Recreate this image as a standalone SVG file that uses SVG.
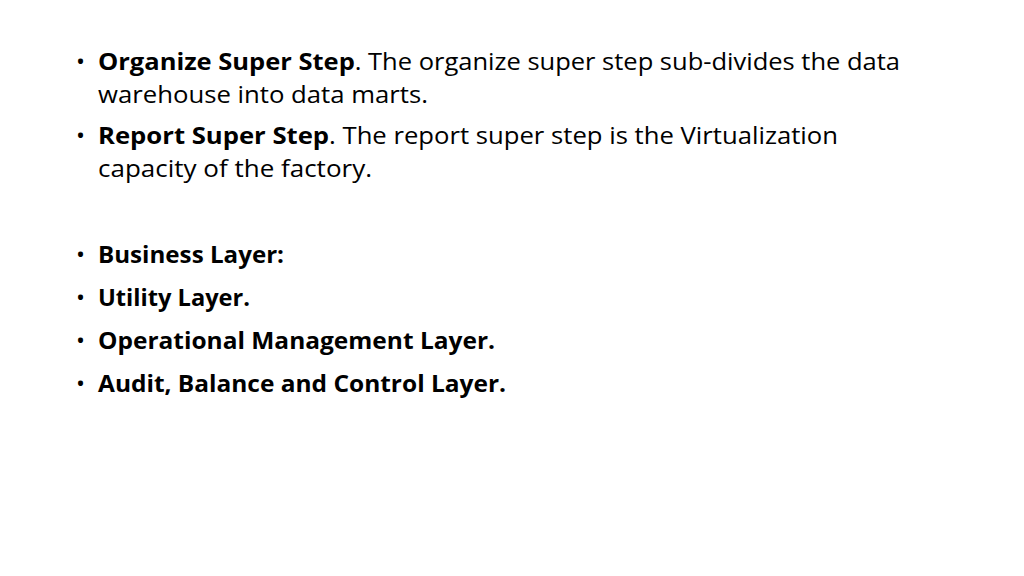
<svg xmlns="http://www.w3.org/2000/svg" width="1024" height="576" viewBox="0 0 1024 576">
<style>
text{font-family:"Open Sans","Liberation Sans",sans-serif;font-size:24px;fill:#000}
.b{font-weight:bold}
</style>
<rect width="1024" height="576" fill="#fff"/>
<g id="bullets">
<text x="76" y="70">•</text><text x="76" y="144">•</text><text x="76" y="263">•</text><text x="76" y="306">•</text><text x="76" y="349">•</text><text x="76" y="392">•</text>
</g>
<g id="organize"><text x="98" y="70" textLength="802" lengthAdjust="spacingAndGlyphs"><tspan class="b">Organize Super Step</tspan>. The organize super step sub-divides the data</text>
<text x="98" y="103" textLength="330" lengthAdjust="spacingAndGlyphs">warehouse into data marts.</text></g>
<g id="report"><text x="98" y="144" textLength="740" lengthAdjust="spacingAndGlyphs"><tspan class="b">Report Super Step</tspan>. The report super step is the Virtualization</text>
<text x="98" y="177" textLength="274" lengthAdjust="spacingAndGlyphs">capacity of the factory.</text></g>
<g id="layers">
<text class="b" x="98" y="263" textLength="186" lengthAdjust="spacingAndGlyphs">Business Layer:</text>
<text class="b" x="98" y="306" textLength="152" lengthAdjust="spacingAndGlyphs">Utility Layer.</text>
<text class="b" x="98" y="349" textLength="397" lengthAdjust="spacingAndGlyphs">Operational Management Layer.</text>
<text class="b" x="98" y="392" textLength="408" lengthAdjust="spacingAndGlyphs">Audit, Balance and Control Layer.</text>
</g>
</svg>
